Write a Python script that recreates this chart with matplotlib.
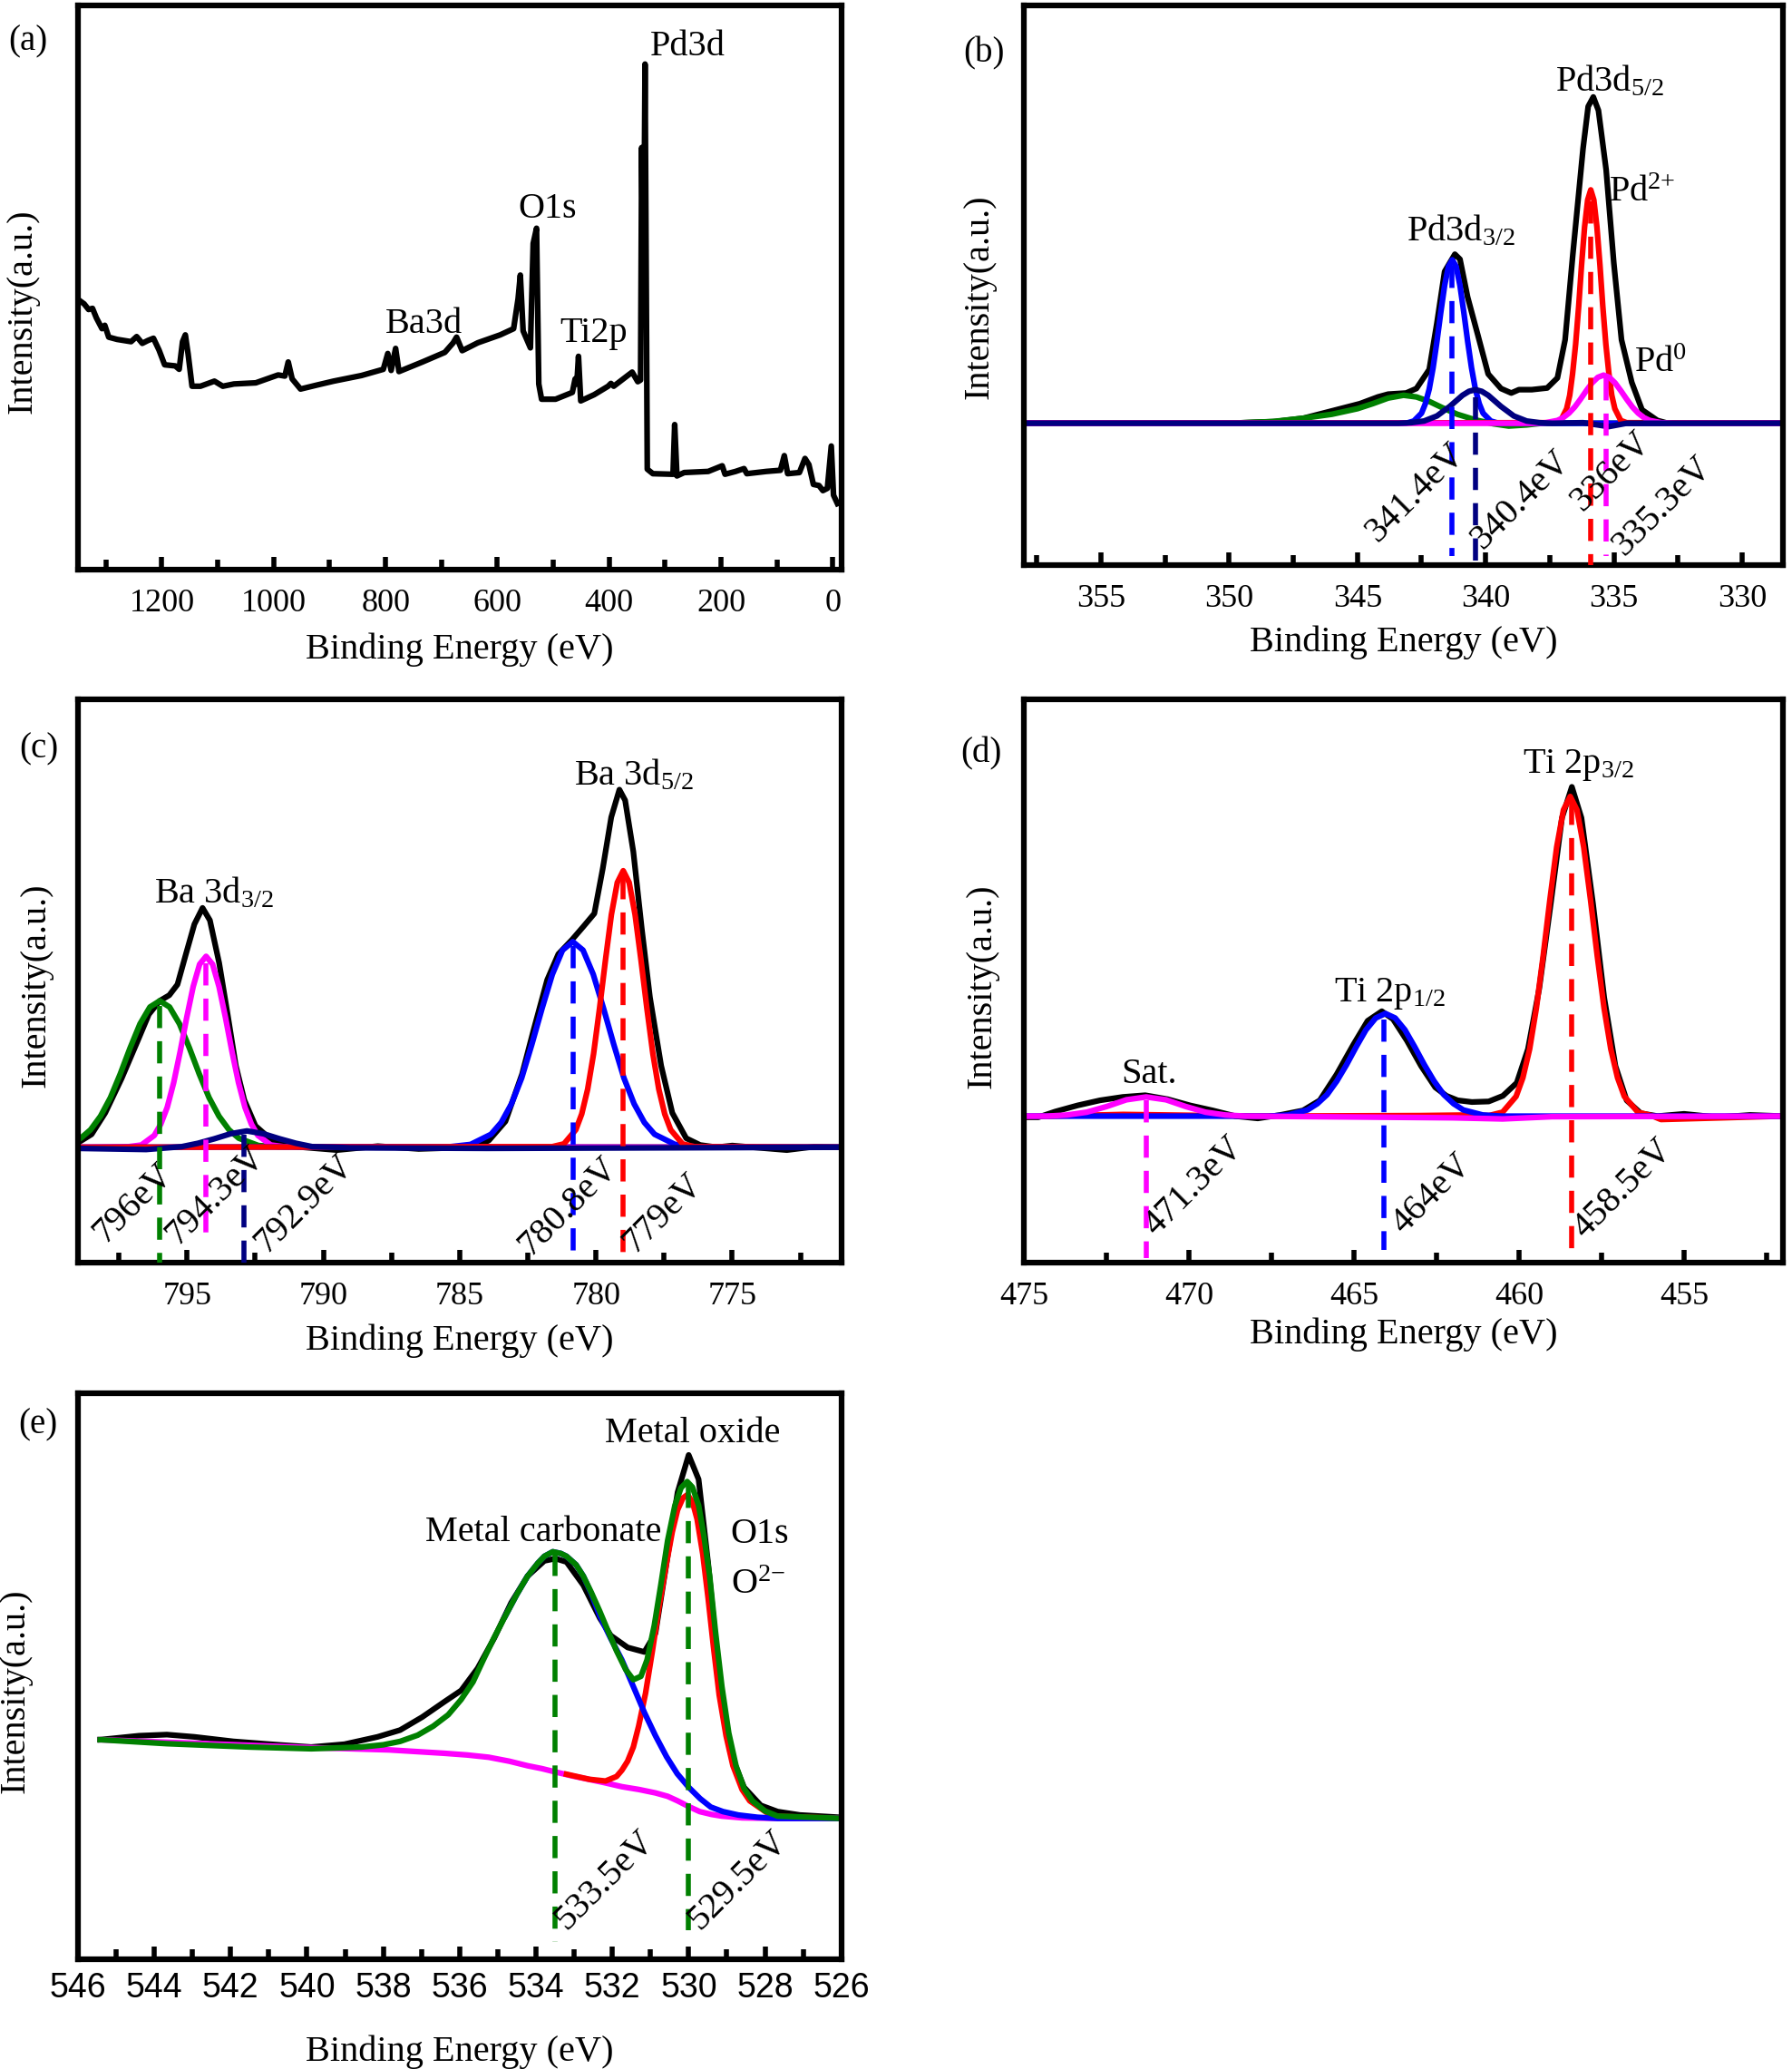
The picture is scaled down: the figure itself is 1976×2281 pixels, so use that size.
import matplotlib
matplotlib.use("Agg")
import matplotlib.pyplot as plt
from matplotlib.ticker import MultipleLocator

plt.rcParams['font.family'] = 'Liberation Serif'
plt.rcParams['mathtext.fontset'] = 'custom'
plt.rcParams['mathtext.rm'] = 'Liberation Serif'
plt.rcParams['mathtext.it'] = 'Liberation Serif:italic'
plt.rcParams['mathtext.bf'] = 'Liberation Serif:bold'

BLUE, NAVY, GREEN, RED, MAGENTA = '#0000FF', '#000080', '#008000', '#FF0000', '#FF00FF'

# ---------------- (a) survey ----------------
survey_be = [1346, 1339, 1331, 1324, 1317, 1307, 1302, 1295, 1280, 1255, 1245, 1235, 1225, 1215,
             1205, 1195, 1176, 1169, 1163, 1158, 1153, 1146, 1131, 1106, 1091, 1071, 1032, 992,
             980, 974, 967, 952, 923, 893, 843, 804, 796, 790, 782, 776, 734, 694, 679, 673, 663,
             635, 595, 571, 563, 559, 554, 541, 536, 530, 526, 521, 496, 466, 461, 458, 455, 451,
             427, 402, 397, 392, 367, 359, 349, 344, 342, 339, 336, 332, 322, 286, 283, 279, 266,
             223, 198, 193, 174, 159, 154, 119, 94, 87, 81, 60, 50, 43, 35, 25, 18, 10, 3, -1, -8]
survey_int = [0.476, 0.471, 0.461, 0.463, 0.446, 0.427, 0.433, 0.412, 0.408, 0.404, 0.413, 0.401,
              0.406, 0.410, 0.389, 0.363, 0.361, 0.355, 0.404, 0.416, 0.382, 0.325, 0.325, 0.334,
              0.325, 0.329, 0.331, 0.345, 0.343, 0.368, 0.338, 0.320, 0.327, 0.334, 0.344, 0.355,
              0.383, 0.353, 0.392, 0.351, 0.368, 0.385, 0.402, 0.412, 0.388, 0.402, 0.416, 0.427,
              0.480, 0.522, 0.423, 0.393, 0.578, 0.605, 0.329, 0.302, 0.302, 0.314, 0.338, 0.329,
              0.378, 0.299, 0.310, 0.325, 0.330, 0.325, 0.344, 0.350, 0.333, 0.336, 0.748, 0.450,
              0.896, 0.178, 0.170, 0.169, 0.257, 0.166, 0.172, 0.174, 0.184, 0.169, 0.174, 0.179,
              0.170, 0.174, 0.176, 0.202, 0.170, 0.172, 0.197, 0.186, 0.151, 0.149, 0.140, 0.144,
              0.219, 0.132, 0.117]
survey_labels = ['Pd3d', 'O1s', 'Ba3d', 'Ti2p']
survey_label_be = [327, 563, 800, 488]
survey_label_y = [0.912, 0.624, 0.419, 0.404]

# ---------------- (b) Pd 3d ----------------
pd_env_be = [358, 350.0, 348.2, 347.1, 346.0, 344.9, 344.2, 343.8, 343.1, 342.7, 342.2, 341.9,
             341.6, 341.2, 341.0, 340.7, 340.3, 339.9, 339.4, 339.0, 338.7, 338.2, 337.6, 337.2,
             336.9, 336.6, 336.2, 336.0, 335.8, 335.6, 335.3, 335.0, 334.7, 334.3, 333.9, 333.3,
             332.9, 328.4]
pd_env_int = [0.253, 0.253, 0.256, 0.262, 0.275, 0.288, 0.300, 0.305, 0.307, 0.315, 0.349, 0.432,
              0.524, 0.555, 0.546, 0.478, 0.410, 0.341, 0.315, 0.307, 0.313, 0.313, 0.316, 0.334,
              0.402, 0.554, 0.744, 0.819, 0.836, 0.812, 0.706, 0.539, 0.402, 0.326, 0.277, 0.258,
              0.253, 0.253]
pd_green_be = [358, 350.0, 348.3, 347.1, 346.0, 345.0, 344.4, 343.8, 343.2, 342.7, 342.2, 341.7,
               341.1, 340.4, 339.7, 339.1, 338.4, 337.8, 328.4]
pd_green_int = [0.253, 0.253, 0.256, 0.262, 0.269, 0.279, 0.288, 0.298, 0.303, 0.300, 0.292, 0.281,
                0.269, 0.259, 0.252, 0.248, 0.250, 0.253, 0.253]
pd_blue_be = [358, 343.1, 342.8, 342.5, 342.35, 342.2, 342.05, 341.9, 341.75, 341.6, 341.45, 341.3,
              341.15, 341.0, 340.85, 340.7, 340.55, 340.4, 340.25, 340.1, 339.8, 339.5, 328.4]
pd_blue_int = [0.253, 0.253, 0.257, 0.271, 0.288, 0.314, 0.352, 0.399, 0.451, 0.499, 0.533, 0.545,
               0.533, 0.499, 0.451, 0.399, 0.352, 0.314, 0.288, 0.271, 0.257, 0.253, 0.253]
pd_red_be = [358, 337.3, 337.07, 336.84, 336.72, 336.61, 336.49, 336.37, 336.26, 336.14, 336.02,
             335.9, 335.78, 335.66, 335.54, 335.43, 335.31, 335.19, 335.08, 334.96, 334.73, 334.5,
             328.4]
pd_red_int = [0.253, 0.254, 0.258, 0.279, 0.303, 0.341, 0.394, 0.462, 0.535, 0.604, 0.652, 0.670,
              0.652, 0.604, 0.535, 0.462, 0.394, 0.341, 0.303, 0.279, 0.258, 0.254, 0.253]
pd_mag_be = [358, 338.1, 337.65, 337.2, 336.975, 336.75, 336.525, 336.3, 336.075, 335.85, 335.625,
             335.4, 335.175, 334.95, 334.725, 334.5, 334.275, 334.05, 333.825, 333.6, 333.15,
             332.7, 328.4]
pd_mag_int = [0.253, 0.253, 0.254, 0.258, 0.263, 0.271, 0.282, 0.296, 0.311, 0.325, 0.335, 0.339,
              0.335, 0.325, 0.311, 0.296, 0.282, 0.271, 0.263, 0.258, 0.254, 0.253, 0.253]
pd_navy_be = [358, 343.4, 342.9, 342.4, 341.9, 341.4, 340.9, 340.65, 340.4, 340.15, 339.9, 339.4,
              338.9, 338.4, 337.9, 337.4, 336.2, 335.2, 334.5, 328.4]
pd_navy_int = [0.253, 0.253, 0.254, 0.257, 0.266, 0.283, 0.303, 0.310, 0.313, 0.310, 0.303, 0.283,
               0.266, 0.257, 0.254, 0.253, 0.254, 0.247, 0.253, 0.253]
pd_lines_be = [341.3, 340.4, 335.9, 335.3]
pd_lines_top = [0.535, 0.300, 0.650, 0.334]
pd_lines_bot = [0.015, 0.0, 0.0, 0.015]
pd_lines_col = [BLUE, NAVY, RED, MAGENTA]
pd_tags = ['341.4eV', '340.4eV', '336eV', '335.3eV']
pd_tag_be = [344.2, 340.1, 336.2, 334.6]
pd_tag_y = [0.04, 0.027, 0.095, 0.015]

# ---------------- (c) Ba 3d ----------------
ba_env_be = [799.0, 798.5, 798.0, 797.4, 796.8, 796.4, 796.0, 795.65, 795.35, 795.04, 794.73,
             794.43, 794.16, 793.82, 793.51, 793.21, 792.9, 792.49, 791.88, 791.27, 789.5, 788.0,
             786.5, 784.54, 783.93, 783.32, 782.71, 782.3, 781.79, 781.38, 780.87, 780.46, 780.06,
             779.75, 779.44, 779.14, 778.93, 778.63, 778.32, 778.02, 777.61, 777.2, 776.69, 776.18,
             775.57, 775.0, 773.0, 772.0, 771.0]
ba_env_int = [0.213, 0.228, 0.266, 0.327, 0.395, 0.441, 0.465, 0.475, 0.494, 0.548, 0.601, 0.630,
              0.608, 0.532, 0.441, 0.350, 0.289, 0.243, 0.217, 0.207, 0.200, 0.207, 0.202, 0.205,
              0.217, 0.251, 0.335, 0.411, 0.502, 0.548, 0.574, 0.597, 0.620, 0.700, 0.791, 0.840,
              0.821, 0.730, 0.593, 0.471, 0.350, 0.266, 0.221, 0.209, 0.205, 0.208, 0.200, 0.206,
              0.205]
ba_green_be = [799.0, 798.9, 798.54, 798.175, 797.81, 797.45, 797.09, 796.725, 796.36, 796.0,
               795.64, 795.275, 794.91, 794.55, 794.19, 793.825, 793.46, 793.1, 792.375, 791.65,
               771.0]
ba_green_int = [0.218, 0.221, 0.236, 0.260, 0.293, 0.335, 0.381, 0.424, 0.454, 0.465, 0.454, 0.424,
                0.381, 0.335, 0.293, 0.260, 0.236, 0.221, 0.208, 0.206, 0.205]
ba_mag_be = [799.0, 797.15, 796.675, 796.2, 795.9625, 795.725, 795.4875, 795.25, 795.0125, 794.775,
             794.5375, 794.3, 794.0625, 793.825, 793.5875, 793.35, 793.1125, 792.875, 792.6375,
             792.4, 791.925, 791.45, 771.0]
ba_mag_int = [0.205, 0.206, 0.209, 0.226, 0.246, 0.276, 0.320, 0.375, 0.435, 0.490, 0.530, 0.544,
              0.530, 0.490, 0.435, 0.375, 0.320, 0.276, 0.246, 0.226, 0.209, 0.206, 0.205]
ba_blue_be = [799.0, 785.35, 784.6, 783.85, 783.475, 783.1, 782.725, 782.35, 781.975, 781.6,
              781.225, 780.85, 780.475, 780.1, 779.725, 779.35, 778.975, 778.6, 778.225, 777.85,
              777.1, 776.35, 771.0]
ba_blue_int = [0.205, 0.206, 0.210, 0.228, 0.249, 0.282, 0.328, 0.388, 0.452, 0.512, 0.555, 0.570,
               0.555, 0.512, 0.452, 0.388, 0.328, 0.282, 0.249, 0.228, 0.210, 0.206, 0.205]
ba_red_be = [799.0, 781.61, 781.175, 780.74, 780.5225, 780.305, 780.0875, 779.87, 779.6525,
             779.435, 779.2175, 779.0, 778.7825, 778.565, 778.3475, 778.13, 777.9125, 777.695,
             777.4775, 777.26, 776.825, 776.39, 771.0]
ba_red_int = [0.205, 0.206, 0.211, 0.236, 0.264, 0.308, 0.371, 0.451, 0.537, 0.618, 0.675, 0.696,
              0.675, 0.618, 0.537, 0.451, 0.371, 0.308, 0.264, 0.236, 0.211, 0.206, 0.205]
ba_navy_be = [799.0, 796.5, 795.2, 794.6, 794.0, 793.4, 792.8, 792.2, 791.6, 791.0, 790.4, 789.6,
              789.0, 784.0, 771.0]
ba_navy_int = [0.203, 0.201, 0.206, 0.212, 0.220, 0.229, 0.234, 0.229, 0.220, 0.212, 0.206, 0.205,
               0.204, 0.203, 0.205]
ba_lines_be = [796.0, 794.3, 792.9, 780.85, 779.0]
ba_lines_top = [0.456, 0.532, 0.228, 0.563, 0.684]
ba_lines_bot = [0.0, 0.03, 0.0, 0.0, 0.0]
ba_lines_col = [GREEN, MAGENTA, NAVY, BLUE, RED]
ba_tags = ['796eV', '794.3eV', '792.9eV', '780.8eV', '779eV']
ba_tag_be = [798.0, 795.35, 792.1, 782.4, 778.6]
ba_tag_y = [0.034, 0.030, 0.015, 0.011, 0.015]

# ---------------- (d) Ti 2p ----------------
ti_env_be = [475.0, 474.57, 474.06, 473.38, 472.7, 472.01, 471.33, 470.65, 469.97, 469.28, 468.6,
             467.92, 467.24, 466.55, 466.04, 465.53, 465.02, 464.59, 464.16, 463.82, 463.4, 462.97,
             462.54, 462.2, 461.86, 461.43, 460.92, 460.49, 460.07, 459.73, 459.39, 459.04, 458.7,
             458.4, 458.11, 457.76, 457.42, 457.08, 456.74, 456.31, 455.8, 455.0, 454.0, 453.0,
             452.0]
ti_env_int = [0.258, 0.258, 0.268, 0.279, 0.288, 0.294, 0.297, 0.290, 0.279, 0.270, 0.260, 0.256,
              0.262, 0.270, 0.288, 0.334, 0.387, 0.429, 0.446, 0.432, 0.394, 0.349, 0.311, 0.296,
              0.288, 0.285, 0.286, 0.296, 0.319, 0.379, 0.486, 0.637, 0.789, 0.844, 0.789, 0.637,
              0.470, 0.349, 0.288, 0.265, 0.260, 0.264, 0.258, 0.262, 0.260]
ti_red_be = [475.0, 472.0, 468.0, 463.0, 461.5, 460.91, 460.5, 460.09, 459.885, 459.68, 459.475,
             459.27, 459.065, 458.86, 458.655, 458.45, 458.245, 458.04, 457.835, 457.63, 457.425,
             457.22, 457.015, 456.81, 456.4, 455.99, 455.7, 452.0]
ti_red_int = [0.259, 0.263, 0.260, 0.261, 0.262, 0.261, 0.267, 0.295, 0.328, 0.379, 0.452, 0.544,
              0.644, 0.737, 0.803, 0.827, 0.803, 0.737, 0.644, 0.544, 0.452, 0.379, 0.328, 0.295,
              0.267, 0.261, 0.254, 0.260]
ti_blue_be = [475.0, 467.59, 467.0, 466.41, 466.115, 465.82, 465.525, 465.23, 464.935, 464.64,
              464.345, 464.05, 463.755, 463.46, 463.165, 462.87, 462.575, 462.28, 461.985, 461.69,
              461.1, 460.51, 452.0]
ti_blue_int = [0.260, 0.260, 0.262, 0.271, 0.282, 0.298, 0.322, 0.351, 0.383, 0.413, 0.434, 0.442,
               0.434, 0.413, 0.383, 0.351, 0.322, 0.298, 0.282, 0.271, 0.262, 0.260, 0.260]
ti_mag_be = [475.0, 474.3, 473.7, 473.1, 472.5, 471.9, 471.3, 470.7, 470.1, 469.5, 468.9, 468.3,
             462.0, 460.5, 459.0, 452.0]
ti_mag_int = [0.260, 0.260, 0.262, 0.267, 0.277, 0.289, 0.294, 0.289, 0.277, 0.267, 0.262, 0.260,
              0.257, 0.255, 0.259, 0.260]
ti_lines_be = [471.3, 464.1, 458.4]
ti_lines_top = [0.288, 0.432, 0.816]
ti_lines_bot = [0.008, 0.023, 0.019]
ti_lines_col = [MAGENTA, BLUE, RED]
ti_tags = ['471.3eV', '464eV', '458.5eV']
ti_tag_be = [471.0, 463.5, 458.0]
ti_tag_y = [0.046, 0.049, 0.042]

# ---------------- (e) O 1s ----------------
o_env_be = [545.42, 544.4, 543.67, 542.95, 541.93, 540.76, 539.89, 539.02, 538.15, 537.56, 536.98,
            536.4, 535.96, 535.53, 535.09, 534.65, 534.22, 533.78, 533.49, 533.2, 532.76, 532.33,
            532.04, 531.6, 531.16, 530.87, 530.58, 530.29, 530.0, 529.74, 529.49, 529.2, 528.91,
            528.55, 528.11, 527.67, 527.09, 526.07]
o_env_int = [0.388, 0.395, 0.397, 0.393, 0.385, 0.379, 0.375, 0.380, 0.393, 0.405, 0.428, 0.455,
             0.475, 0.514, 0.568, 0.630, 0.677, 0.704, 0.708, 0.702, 0.661, 0.603, 0.572, 0.551,
             0.543, 0.576, 0.700, 0.825, 0.891, 0.848, 0.700, 0.498, 0.366, 0.304, 0.272, 0.261,
             0.255, 0.251]
o_fit_be = [545.42, 543.67, 541.49, 539.89, 538.58, 538.0, 537.56, 537.1, 536.69, 536.3, 535.96,
            535.65, 535.38, 535.1, 534.8, 534.5, 534.22, 533.95, 533.78, 533.56, 533.35, 533.2,
            532.95, 532.76, 532.55, 532.33, 532.1, 531.89, 531.65, 531.45, 531.25, 531.09, 530.9,
            530.73, 530.55, 530.36, 530.2, 530.04, 529.9, 529.74, 529.6, 529.45, 529.3, 529.13,
            528.95, 528.76, 528.55, 528.33, 528.0, 527.67, 526.0]
o_fit_int = [0.388, 0.381, 0.375, 0.372, 0.375, 0.379, 0.385, 0.396, 0.412, 0.432, 0.459, 0.490,
             0.529, 0.568, 0.607, 0.645, 0.677, 0.700, 0.712, 0.720, 0.717, 0.712, 0.697, 0.677,
             0.648, 0.615, 0.578, 0.545, 0.512, 0.494, 0.500, 0.529, 0.590, 0.661, 0.740, 0.802,
             0.833, 0.844, 0.834, 0.802, 0.748, 0.677, 0.580, 0.482, 0.400, 0.342, 0.302, 0.280,
             0.262, 0.253, 0.249]
o_blue_be = [534.8, 534.5, 534.22, 533.95, 533.78, 533.56, 533.35, 533.2, 532.95, 532.76, 532.55,
             532.33, 532.05, 531.75, 531.45, 531.16, 530.87, 530.58, 530.3, 530.0, 529.7, 529.42,
             529.1, 528.7, 528.2, 527.67, 526.0]
o_blue_int = [0.607, 0.645, 0.677, 0.700, 0.712, 0.720, 0.717, 0.712, 0.697, 0.677, 0.646, 0.607,
              0.568, 0.529, 0.482, 0.436, 0.395, 0.358, 0.328, 0.304, 0.284, 0.269, 0.261, 0.255,
              0.251, 0.249, 0.249]
o_red_be = [533.2, 532.6, 532.18, 531.89, 531.75, 531.6, 531.45, 531.31, 531.13, 530.95, 530.77,
            530.58, 530.43, 530.29, 530.15, 530.03, 529.9, 529.78, 529.63, 529.49, 529.35, 529.2,
            529.02, 528.84, 528.6, 528.4, 527.82, 526.0]
o_red_int = [0.327, 0.318, 0.315, 0.323, 0.334, 0.350, 0.375, 0.412, 0.470, 0.545, 0.625, 0.700,
             0.755, 0.794, 0.815, 0.821, 0.808, 0.778, 0.716, 0.638, 0.552, 0.467, 0.395, 0.342,
             0.300, 0.280, 0.253, 0.249]
o_bg_be = [545.42, 539.89, 537.85, 536.4, 535.8, 535.24, 534.7, 534.22, 533.85, 533.49, 533.05,
           532.62, 532.2, 531.75, 531.3, 530.87, 530.55, 530.29, 530.0, 529.71, 529.4, 529.13,
           528.6, 527.67, 526.0]
o_bg_int = [0.388, 0.374, 0.370, 0.364, 0.361, 0.357, 0.350, 0.342, 0.337, 0.331, 0.324, 0.318,
            0.312, 0.305, 0.300, 0.294, 0.288, 0.280, 0.270, 0.261, 0.256, 0.253, 0.250, 0.249,
            0.249]
o_lines_be = [533.5, 530.0]
o_lines_top = [0.716, 0.837]
o_lines_bot = [0.031, 0.051]
o_tags = ['533.5eV', '529.5eV']
o_tag_be = [533.2, 529.7]
o_tag_y = [0.051, 0.051]

LW = 4.5
DASH = (0, (4.4, 2.6))
FS = 29


def style(ax, xlim, major, minor, ylab_x, ylab_y, xlab_y, sans=False):
    ax.set_xlim(*xlim)
    ax.set_ylim(0, 1)
    ax.set_yticks([])
    ax.xaxis.set_major_locator(MultipleLocator(major))
    ax.xaxis.set_minor_locator(MultipleLocator(minor))
    ax.tick_params(axis='x', which='both', direction='in', width=4, top=False,
                   labelsize=27 if sans else 26, pad=10 if sans else 15)
    ax.tick_params(axis='x', which='major', length=10)
    ax.tick_params(axis='x', which='minor', length=8)
    if sans:
        ax.tick_params(axis='x', labelfontfamily='Liberation Sans')
    for s in ax.spines.values():
        s.set_linewidth(4.5)
    ax.set_xlabel('Binding Energy (eV)', fontsize=FS)
    ax.set_ylabel('Intensity(a.u.)', fontsize=FS)
    ax.yaxis.set_label_coords(ylab_x, ylab_y)
    ax.xaxis.set_label_coords(0.5, xlab_y)
    ax.xaxis.label.set_va('top')


def vlines(ax, xs, tops, bots, cols):
    for x, t, b, c in zip(xs, tops, bots, cols):
        ax.plot([x, x], [t, b], color=c, lw=4, ls=DASH, zorder=4)


def tags(ax, texts, xs, ys):
    tr = ax.get_xaxis_transform()
    for s, x, y in zip(texts, xs, ys):
        ax.text(x, y, s, transform=tr, rotation=45, rotation_mode='anchor',
                ha='left', va='baseline', fontsize=FS, zorder=5)


def note(ax, x, y, s):
    ax.text(x, y, s, transform=ax.get_xaxis_transform(), ha='left', va='baseline', fontsize=FS)


fig = plt.figure(figsize=(19.76, 22.81), dpi=100)
ax_a = fig.add_axes([0.0435, 0.7247, 0.426, 0.2727])
ax_b = fig.add_axes([0.5715, 0.7270, 0.4235, 0.2705])
ax_c = fig.add_axes([0.0435, 0.3897, 0.426, 0.2722])
ax_d = fig.add_axes([0.5715, 0.3897, 0.4235, 0.2725])
ax_e = fig.add_axes([0.0435, 0.0530, 0.426, 0.2736])

# (a)
ax_a.plot(survey_be, survey_int, color='black', lw=LW)
for s, x, y in zip(survey_labels, survey_label_be, survey_label_y):
    note(ax_a, x, y, s)
style(ax_a, (1350, -15), 200, 100, -0.051, 0.458, -0.111)

# (b)
ax_b.plot(pd_env_be, pd_env_int, color='black', lw=LW)
ax_b.plot(pd_green_be, pd_green_int, color=GREEN, lw=LW)
ax_b.plot(pd_blue_be, pd_blue_int, color=BLUE, lw=LW)
ax_b.plot(pd_red_be, pd_red_int, color=RED, lw=LW)
ax_b.plot(pd_mag_be, pd_mag_int, color=MAGENTA, lw=LW)
ax_b.plot(pd_navy_be, pd_navy_int, color=NAVY, lw=LW)
vlines(ax_b, pd_lines_be, pd_lines_top, pd_lines_bot, pd_lines_col)
tags(ax_b, pd_tags, pd_tag_be, pd_tag_y)
note(ax_b, 337.3, 0.846, r'Pd3d$_{\mathrm{5/2}}$')
note(ax_b, 335.2, 0.649, r'Pd$^{\mathrm{2{+}}}$')
note(ax_b, 334.2, 0.345, r'Pd$^{\mathrm{0}}$')
note(ax_b, 343.1, 0.580, r'Pd3d$_{\mathrm{3/2}}$')
style(ax_b, (358, 328.4), 5, 2.5, -0.037, 0.479, -0.108)

# (c)
ax_c.plot(ba_env_be, ba_env_int, color='black', lw=LW)
ax_c.plot(ba_green_be, ba_green_int, color=GREEN, lw=LW)
ax_c.plot(ba_mag_be, ba_mag_int, color=MAGENTA, lw=LW)
ax_c.plot(ba_blue_be, ba_blue_int, color=BLUE, lw=LW)
ax_c.plot(ba_red_be, ba_red_int, color=RED, lw=LW)
ax_c.plot(ba_navy_be, ba_navy_int, color=NAVY, lw=LW)
vlines(ax_c, ba_lines_be, ba_lines_top, ba_lines_bot, ba_lines_col)
tags(ax_c, ba_tags, ba_tag_be, ba_tag_y)
note(ax_c, 796.2, 0.639, r'Ba 3d$_{\mathrm{3/2}}$')
note(ax_c, 780.8, 0.848, r'Ba 3d$_{\mathrm{5/2}}$')
style(ax_c, (799, 771), 5, 2.5, -0.033, 0.492, -0.108)

# (d)
ax_d.plot(ti_env_be, ti_env_int, color='black', lw=LW)
ax_d.plot(ti_red_be, ti_red_int, color=RED, lw=LW)
ax_d.plot(ti_blue_be, ti_blue_int, color=BLUE, lw=LW)
ax_d.plot(ti_mag_be, ti_mag_int, color=MAGENTA, lw=LW)
vlines(ax_d, ti_lines_be, ti_lines_top, ti_lines_bot, ti_lines_col)
tags(ax_d, ti_tags, ti_tag_be, ti_tag_y)
note(ax_d, 472.05, 0.319, 'Sat.')
note(ax_d, 465.6, 0.463, r'Ti 2p$_{\mathrm{1/2}}$')
note(ax_d, 459.9, 0.869, r'Ti 2p$_{\mathrm{3/2}}$')
style(ax_d, (475, 452), 5, 2.5, -0.033, 0.49, -0.097)

# (e)
ax_e.plot(o_env_be, o_env_int, color='black', lw=LW)
ax_e.plot(o_bg_be, o_bg_int, color=MAGENTA, lw=LW)
ax_e.plot(o_red_be, o_red_int, color=RED, lw=LW)
ax_e.plot(o_blue_be, o_blue_int, color=BLUE, lw=LW)
ax_e.plot(o_fit_be, o_fit_int, color=GREEN, lw=LW)
vlines(ax_e, o_lines_be, o_lines_top, o_lines_bot, [GREEN, GREEN])
tags(ax_e, o_tags, o_tag_be, o_tag_y)
note(ax_e, 532.2, 0.914, 'Metal oxide')
note(ax_e, 536.9, 0.739, 'Metal carbonate')
note(ax_e, 528.9, 0.735, 'O1s')
note(ax_e, 528.9, 0.646, r'O$^{\mathrm{2{-}}}$')
style(ax_e, (546, 526), 2, 1, -0.06, 0.474, -0.134, sans=True)

# panel letters
for s, x, y in [('(a)', 0.0046, 0.9757), ('(b)', 0.5374, 0.970), ('(c)', 0.0107, 0.6337),
                ('(d)', 0.536, 0.6317), ('(e)', 0.0101, 0.3073)]:
    fig.text(x, y, s, fontsize=28, ha='left', va='baseline')

fig.savefig('out.png', dpi=100)
